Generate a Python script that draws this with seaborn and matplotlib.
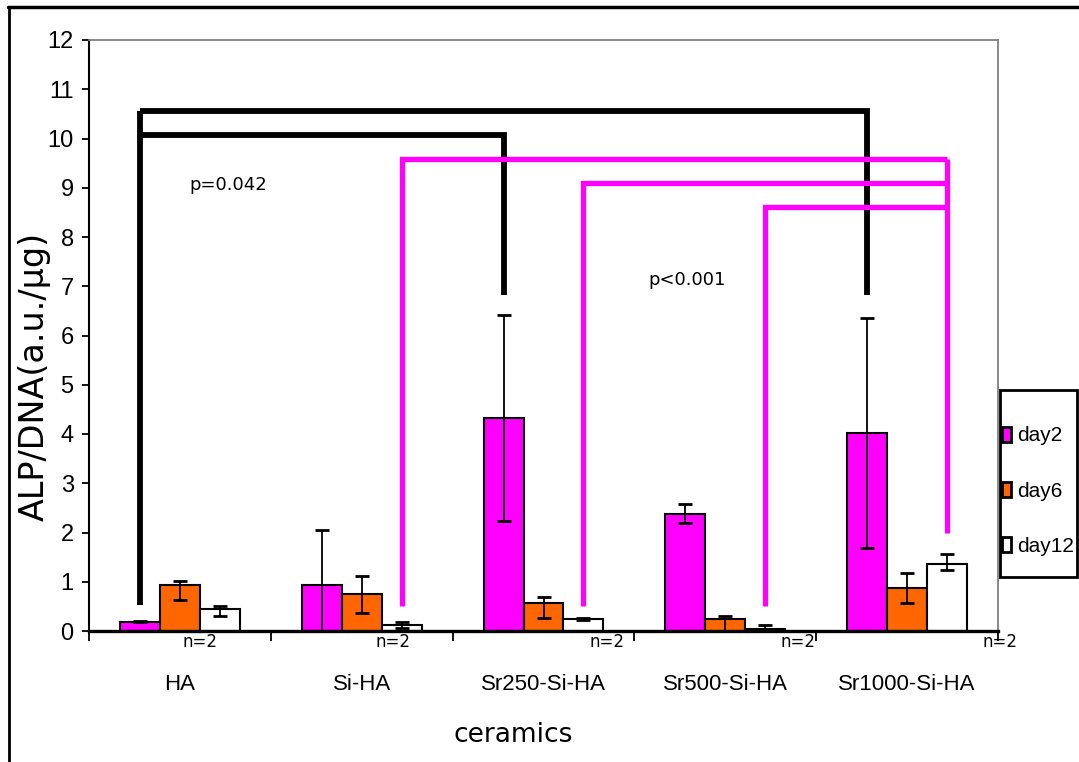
import numpy as np
import pandas as pd
import seaborn as sns
import matplotlib
matplotlib.use("Agg")
import matplotlib.pyplot as plt
from matplotlib import font_manager
from matplotlib.lines import Line2D
from matplotlib.patches import Patch, Rectangle

# ---- data -------------------------------------------------------------
categories = ["HA", "Si-HA", "Sr250-Si-HA", "Sr500-Si-HA", "Sr1000-Si-HA"]
series = ["day2", "day6", "day12"]

day2 = [0.19, 0.94, 4.33, 2.38, 4.02]
day6 = [0.94, 0.75, 0.56, 0.24, 0.87]
day12 = [0.44, 0.12, 0.24, 0.05, 1.37]

# error-bar ends (lower, upper)
day2_lo = [0.18, 0.00, 2.24, 2.19, 1.69]
day2_hi = [0.21, 2.06, 6.41, 2.58, 6.35]
day6_lo = [0.63, 0.37, 0.26, 0.00, 0.56]
day6_hi = [1.01, 1.12, 0.69, 0.31, 1.18]
day12_lo = [0.31, 0.07, 0.22, 0.00, 1.23]
day12_hi = [0.50, 0.18, 0.26, 0.12, 1.56]

# significance brackets: (category, series) of each leg, heights
black_levels = [10.55, 10.07]
black_targets = [("Sr1000-Si-HA", "day2"), ("Sr250-Si-HA", "day2")]
black_origin = ("HA", "day2")
black_leg_bottom = 0.52
black_target_bottom = 6.82

magenta_levels = [9.58, 9.10, 8.60]
magenta_targets = [("Si-HA", "day12"), ("Sr250-Si-HA", "day12"), ("Sr500-Si-HA", "day12")]
magenta_origin = ("Sr1000-Si-HA", "day12")
magenta_origin_bottom = 1.98
magenta_target_bottom = 0.51

p_labels = ["p=0.042", "p<0.001"]
n_label = "n=2"

colors = {"day2": "#FF00FF", "day6": "#FF6600", "day12": "#FFFFFF"}

df = pd.DataFrame({
    "ceramics": categories * 3,
    "day": ["day2"] * 5 + ["day6"] * 5 + ["day12"] * 5,
    "value": day2 + day6 + day12,
})


def find_family(candidates):
    for fam in candidates:
        try:
            font_manager.findfont(font_manager.FontProperties(family=fam),
                                  fallback_to_default=False)
            return fam
        except ValueError:
            continue
    return None


narrow_family = find_family(["Liberation Sans Narrow", "Arial Narrow"])
if narrow_family:
    tick_family, tick_size, leg_size = [narrow_family, "DejaVu Sans"], 17, 17
else:
    tick_family, tick_size, leg_size = ["Liberation Sans", "DejaVu Sans"], 16, 15

# ---- style ------------------------------------------------------------
sns.set_style("white")
plt.rcParams["font.family"] = ["DejaVu Sans"]
for key in ["text.color", "axes.labelcolor", "xtick.color", "ytick.color"]:
    plt.rcParams[key] = "black"

fig = plt.figure(figsize=(10.79, 7.62), dpi=100)
ax = fig.add_axes([89 / 1079, 1 - 631 / 762, (998 - 89) / 1079, (631 - 40) / 762])

group_width = 0.66
sns.barplot(data=df, x="ceramics", y="value", hue="day", order=categories,
            hue_order=series, palette=colors, width=group_width, dodge=True,
            errorbar=None, edgecolor="black", linewidth=1.5, saturation=1,
            legend=False, ax=ax)

bw = group_width / len(series)
offsets = {s: (k - 1) * bw for k, s in enumerate(series)}


def xpos(cat, s):
    return categories.index(cat) + offsets[s]


lows = {"day2": day2_lo, "day6": day6_lo, "day12": day12_lo}
highs = {"day2": day2_hi, "day6": day6_hi, "day12": day12_hi}
vals = {"day2": day2, "day6": day6, "day12": day12}
for s in series:
    xs = np.arange(len(categories)) + offsets[s]
    v = np.array(vals[s])
    yerr = np.vstack([v - np.array(lows[s]), np.array(highs[s]) - v])
    ax.errorbar(xs, v, yerr=yerr, fmt="none", ecolor="black",
                elinewidth=1.3, capsize=4.8, capthick=2.0, zorder=4)

# significance brackets
bx0 = xpos(*black_origin)
ax.plot([bx0, bx0], [black_leg_bottom, max(black_levels)], color="black",
        lw=4.2, solid_capstyle="butt", zorder=5)
for lvl, tgt in zip(black_levels, black_targets):
    bx1 = xpos(*tgt)
    ax.plot([bx0, bx1, bx1], [lvl, lvl, black_target_bottom], color="black",
            lw=4.2, solid_joinstyle="miter", solid_capstyle="butt", zorder=5)

mx0 = xpos(*magenta_origin)
ax.plot([mx0, mx0], [magenta_origin_bottom, max(magenta_levels)], color="#FF00FF",
        lw=3.8, solid_capstyle="butt", zorder=5)
for lvl, tgt in zip(magenta_levels, magenta_targets):
    mx1 = xpos(*tgt)
    ax.plot([mx0, mx1, mx1], [lvl, lvl, magenta_target_bottom], color="#FF00FF",
            lw=3.8, solid_joinstyle="miter", solid_capstyle="butt", zorder=5)

ax.text(0.265, 9.05, p_labels[0], fontsize=13, ha="center", va="center")
ax.text(2.787, 7.13, p_labels[1], fontsize=13, ha="center", va="center")

for xn in [0.11, 1.17, 2.35, 3.40, 4.51]:
    ax.text(xn, -0.05, n_label, fontsize=12, ha="center", va="top", clip_on=False)

# ---- axes -------------------------------------------------------------
ax.set_xlim(-0.5, len(categories) - 0.5)
ax.set_ylim(0, 12)
ax.set_yticks(range(0, 13))
ax.set_yticklabels([str(i) for i in range(0, 13)], family=tick_family, fontsize=17)
ax.set_xticks(range(len(categories)))
ax.set_xticklabels(categories, family=tick_family, fontsize=tick_size)
ax.set_xticks(np.arange(-0.5, len(categories)), minor=True)
ax.tick_params(axis="x", which="major", length=0, pad=31)
ax.tick_params(axis="x", which="minor", length=7, width=1.3, color="black",
               direction="out", bottom=True)
ax.tick_params(axis="y", which="major", length=5, width=1.3, color="black",
               direction="out", left=True, pad=6)

for side in ["top", "right"]:
    ax.spines[side].set_color("#808080")
    ax.spines[side].set_linewidth(1.3)
ax.spines["left"].set_color("black")
ax.spines["left"].set_linewidth(1.5)
ax.spines["bottom"].set_color("black")
ax.spines["bottom"].set_linewidth(2.4)
ax.spines["bottom"].set_zorder(6)

ax.set_xlabel("ceramics", fontsize=19)
ax.xaxis.set_label_coords((513 - 89) / 909, -(735 - 631) / 591)
ax.xaxis.label.set_va("center")
ax.set_ylabel("ALP/DNA(a.u./µg)", fontsize=24)
ax.yaxis.set_label_coords(-(89 - 34) / 909, (631 - 376) / 591)
ax.yaxis.label.set_va("center")

# legend with a separately drawn frame
handles = [Patch(facecolor=colors[s], edgecolor="black", linewidth=2.0, label=s)
           for s in series]
leg_fs_px = leg_size * 100 / 72
fig.legend(handles=handles, loc="center left",
           bbox_to_anchor=(1002 / 1079, 1 - 491 / 762),
           prop={"family": tick_family, "size": leg_size}, frameon=False,
           handlelength=9 / leg_fs_px, handleheight=15 / leg_fs_px,
           handletextpad=6 / leg_fs_px, labelspacing=(60 - 1.15 * leg_fs_px) / leg_fs_px,
           borderpad=0, borderaxespad=0)
fig.add_artist(Rectangle((1000 / 1079, 1 - 577 / 762), 77 / 1079, 187 / 762,
                         transform=fig.transFigure, fill=False,
                         edgecolor="black", linewidth=2.0))

# outer frame lines
fig.add_artist(Line2D([8 / 1079, 1.0], [1 - 7 / 762, 1 - 7 / 762],
                      transform=fig.transFigure, color="black", lw=2.5))
fig.add_artist(Line2D([9 / 1079, 9 / 1079], [0.0, 1 - 7 / 762],
                      transform=fig.transFigure, color="black", lw=2.0))

fig.savefig("out.png", dpi=100, facecolor="white")
